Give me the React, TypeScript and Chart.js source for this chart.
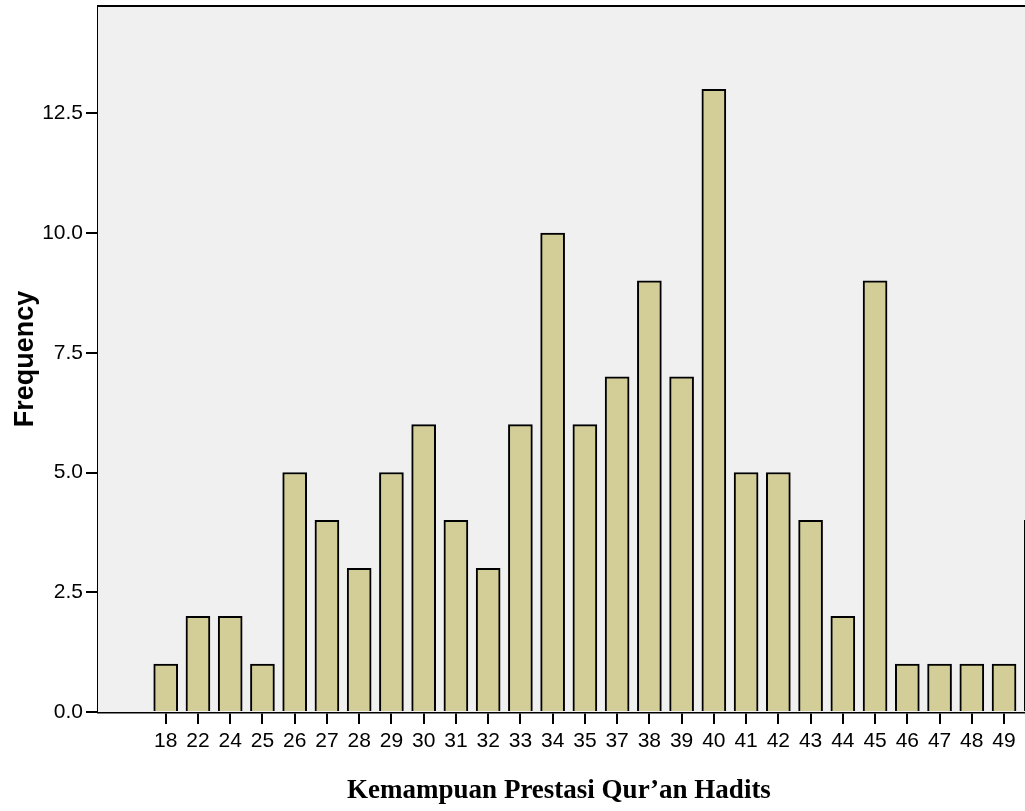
import React, { useEffect, useRef } from "react";
import { Chart, registerables } from "chart.js";

Chart.register(...registerables);

const categories: string[] = [
  "18", "22", "24", "25", "26", "27", "28", "29", "30", "31", "32", "33", "34", "35",
  "37", "38", "39", "40", "41", "42", "43", "44", "45", "46", "47", "48", "49", "50",
];
const frequencies: number[] = [
  1, 2, 2, 1, 5, 4, 3, 5, 6, 4, 3, 6, 10, 6, 7, 9, 7, 13, 5, 5, 4, 2, 9, 1, 1, 1, 1, 4,
];
const yTickValues: number[] = [0, 2.5, 5, 7.5, 10, 12.5];
const yAxisTitle = "Frequency";
const xAxisTitle = "Kemampuan Prestasi Qur\u2019an Hadits";

const CANVAS_W = 1118;
const CANVAS_H = 811;
const SANS = "'Liberation Sans', Arial, sans-serif";
const SERIF = "'Liberation Serif', 'Times New Roman', serif";

export default function App() {
  const ref = useRef<HTMLCanvasElement | null>(null);

  useEffect(() => {
    if (!ref.current) return;
    const framePlugin = {
      id: "frame",
      beforeDatasetsDraw(chart: any) {
        const { ctx, chartArea } = chart;
        ctx.save();
        ctx.fillStyle = "#F0F0F0";
        ctx.fillRect(chartArea.left, chartArea.top, chartArea.right - chartArea.left, chartArea.bottom - chartArea.top);
        ctx.restore();
      },
      afterDraw(chart: any) {
        const { ctx, chartArea } = chart;
        ctx.save();
        ctx.strokeStyle = "#000";
        ctx.lineWidth = 2;
        ctx.beginPath();
        ctx.moveTo(chartArea.left, chartArea.top);
        ctx.lineTo(chartArea.right, chartArea.top);
        ctx.lineTo(chartArea.right, chartArea.bottom);
        ctx.stroke();
        ctx.fillStyle = "#000";
        ctx.font = `bold 27px ${SANS}`;
        ctx.textAlign = "center";
        ctx.textBaseline = "alphabetic";
        ctx.save();
        ctx.translate(33, (chartArea.top + chartArea.bottom) / 2);
        ctx.rotate(-Math.PI / 2);
        ctx.fillText(yAxisTitle, 0, 0);
        ctx.restore();
        ctx.font = `bold 27px ${SERIF}`;
        ctx.fillText(xAxisTitle, 559, 798);
        ctx.restore();
      },
    };

    const chart = new Chart(ref.current, {
      type: "bar",
      data: {
        datasets: [
          {
            data: frequencies.map((v, i) => ({ x: i, y: v })),
            backgroundColor: "#D3CE97",
            borderColor: "#000",
            borderWidth: 2,
            barThickness: 24,
          } as any,
        ],
      },
      plugins: [framePlugin],
      options: {
        animation: false,
        responsive: false,
        devicePixelRatio: 1,
        layout: { padding: { left: 0, top: 6, right: 14, bottom: 0 } },
        plugins: { legend: { display: false }, tooltip: { enabled: false }, title: { display: false } },
        scales: {
          x: {
            type: "linear",
            min: -2.1,
            max: categories.length - 1 + 2.1,
            offset: false,
            afterBuildTicks: (scale: any) => {
              scale.ticks = categories.map((_, i) => ({ value: i }));
            },
            afterFit: (scale: any) => {
              scale.height = CANVAS_H - 712;
              scale.paddingLeft = 0;
              scale.paddingRight = 0;
            },
            ticks: {
              autoSkip: false,
              maxRotation: 0,
              minRotation: 0,
              padding: 5,
              color: "#000",
              font: { family: SANS, size: 21 },
              callback: (v: any) => categories[Math.round(Number(v))] ?? "",
            },
            grid: {
              display: true,
              offset: false,
              drawOnChartArea: false,
              drawTicks: true,
              tickLength: 12,
              color: "#000",
              lineWidth: 2,
            },
            border: { display: true, color: "#000", width: 2.5 },
          },
          y: {
            type: "linear",
            min: 0,
            max: 14.74,
            afterBuildTicks: (scale: any) => {
              scale.ticks = yTickValues.map((v) => ({ value: v }));
            },
            afterFit: (scale: any) => {
              scale.width = 98;
              scale.paddingTop = 0;
              scale.paddingBottom = 0;
            },
            ticks: {
              padding: 3,
              color: "#000",
              font: { family: SANS, size: 21 },
              callback: (v: any) => Number(v).toFixed(1),
            },
            grid: {
              display: true,
              drawOnChartArea: false,
              drawTicks: true,
              tickLength: 12,
              color: "#000",
              lineWidth: 2,
            },
            border: { display: true, color: "#000", width: 2 },
          },
        },
      } as any,
    });
    return () => chart.destroy();
  }, []);

  return (
    <div style={{ position: "fixed", left: 0, top: 0, width: 1025, height: 811, overflow: "hidden", background: "#fff" }}>
      <canvas ref={ref} width={CANVAS_W} height={CANVAS_H} style={{ display: "block", width: CANVAS_W, height: CANVAS_H }} />
    </div>
  );
}
